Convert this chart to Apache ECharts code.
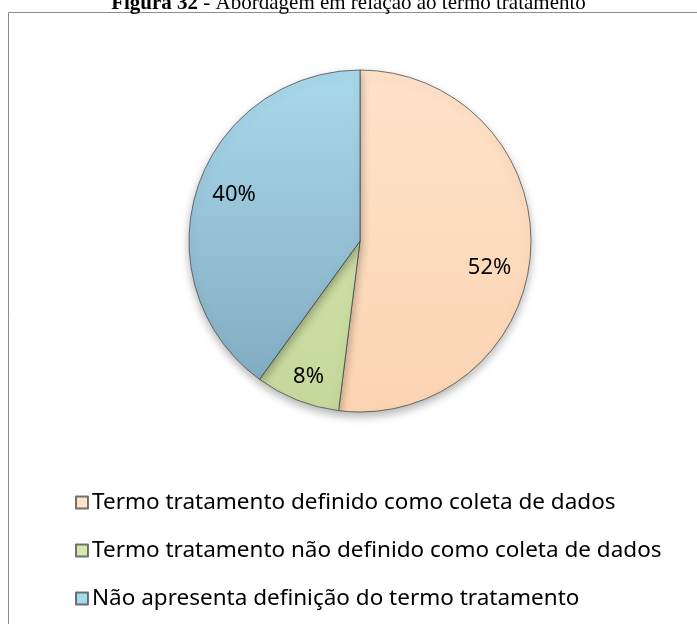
<!DOCTYPE html>
<html>
<head>
    <meta charset="utf-8">
    <title>Figura 32</title>
    <script src="https://cdn.jsdelivr.net/npm/echarts@6/dist/echarts.min.js"></script>
    <style>
      html, body { margin: 0; padding: 0; background: #fff; }
      #chart { width: 697px; height: 624px; }
    </style>
</head>
<body>
    <div id="chart"></div>
    <script type="text/javascript">
    // dados do gráfico
    var categories = [
      'Termo tratamento definido como coleta de dados',
      'Termo tratamento não definido como coleta de dados',
      'Não apresenta definição do termo tratamento'
    ];
    var values = [52, 8, 40];
    var titleBold = 'Figura 32';
    var titleRest = ' - Abordagem em relação ao termo tratamento';

    // cores (topo -> base)
    var colorsTop = ['#fee2c9', '#d6e7b1', '#a9d9ec'];
    var colorsBottom = ['#fbd4b2', '#c5d89b', '#7fa8bd'];

    var cx = 360, cy = 241, R = 171;

    function grad(i) {
      return {
        type: 'linear', x: 0, y: cy - R, x2: 0, y2: cy + R, global: true,
        colorStops: [
          { offset: 0, color: colorsTop[i] },
          { offset: 1, color: colorsBottom[i] }
        ]
      };
    }

    // ajuste fino dos rótulos (como no Excel)
    var labelShift = [[-10, 18], [0, 6], [7, -3]];

    var pieData = categories.map(function (name, i) {
      return { name: name, value: values[i], itemStyle: { color: grad(i) } };
    });
    var labelData = categories.map(function (name, i) {
      return { name: name, value: values[i], label: { offset: labelShift[i] } };
    });

    var chart = echarts.init(document.getElementById('chart'));
    var option = {
      animation: false,
      title: {
        text: '{b|' + titleBold + '}{n|' + titleRest + '}',
        left: 'center',
        top: -12,
        textStyle: {
          rich: {
            b: { fontFamily: 'Liberation Serif', fontSize: 21, fontWeight: 'bold', color: '#000' },
            n: { fontFamily: 'Liberation Serif', fontSize: 21, fontWeight: 'normal', color: '#000' }
          }
        }
      },
      graphic: [{
        type: 'rect',
        shape: { x: 8.5, y: 12.5, width: 900, height: 900 },
        style: { fill: 'none', stroke: '#8c8c8c', lineWidth: 1 },
        z: -1
      }],
      legend: {
        orient: 'vertical',
        left: 70,
        top: 486,
        itemGap: 25,
        icon: 'rect',
        itemWidth: 12,
        itemHeight: 12,
        data: categories,
        textStyle: { fontFamily: 'Noto Sans', fontSize: 22.5, lineHeight: 23, color: '#000', padding: [0, 0, 0, -1] }
      },
      series: [{
        type: 'pie',
        center: [cx, cy],
        radius: [0, R],
        startAngle: 90,
        data: pieData,
        label: { show: false },
        labelLine: { show: false },
        itemStyle: {
          borderColor: 'rgba(70,70,70,0.75)',
          borderWidth: 1,
          shadowBlur: 10,
          shadowOffsetY: 4,
          shadowColor: 'rgba(0,0,0,0.3)'
        },
        emphasis: { disabled: true }
      }, {
        type: 'pie',
        center: [cx, cy],
        radius: [R * 0.6, R],
        startAngle: 90,
        data: labelData,
        silent: true,
        legendHoverLink: false,
        itemStyle: { color: 'rgba(0,0,0,0)' },
        label: {
          show: true,
          position: 'inside',
          formatter: '{d}%',
          fontFamily: 'Noto Sans',
          fontSize: 22,
          color: '#000'
        },
        labelLine: { show: false },
        emphasis: { disabled: true }
      }]
    };
    chart.setOption(option);
    </script>
</body>
</html>
